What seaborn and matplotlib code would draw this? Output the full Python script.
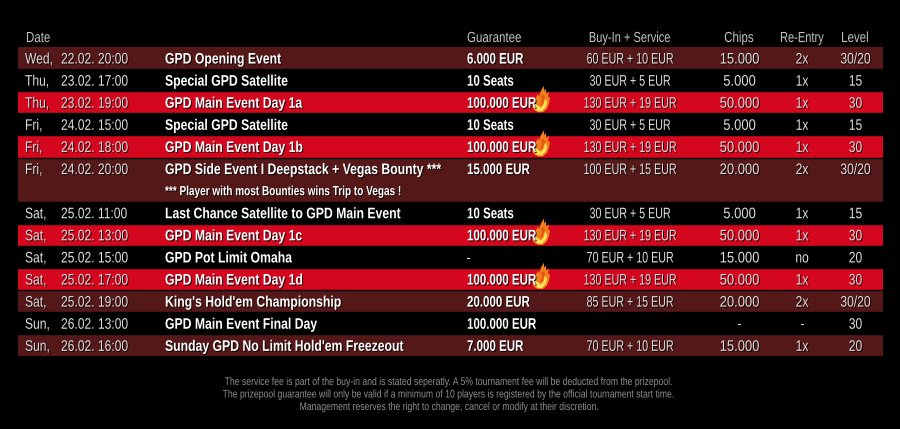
#!/usr/bin/env python3
"""
GPD tournament schedule table
"""

import numpy as np
import pandas as pd
import matplotlib
matplotlib.use('Agg')
import matplotlib.pyplot as plt
import matplotlib.patheffects as pe
from matplotlib.colors import ListedColormap
from matplotlib.patches import Polygon
from matplotlib.transforms import Affine2D, Bbox
import seaborn as sns

# Table content, one entry per band (row 6 is the note line of the side event)
days = ['Wed,', 'Thu,', 'Thu,', 'Fri,', 'Fri,', 'Fri,', '', 'Sat,', 'Sat,', 'Sat,', 'Sat,', 'Sat,', 'Sun,', 'Sun,']
dates = ['22.02. 20:00', '23.02. 17:00', '23.02. 19:00', '24.02. 15:00', '24.02. 18:00', '24.02. 20:00', '',
         '25.02. 11:00', '25.02. 13:00', '25.02. 15:00', '25.02. 17:00', '25.02. 19:00', '26.02. 13:00', '26.02. 16:00']
events = ['GPD Opening Event', 'Special GPD Satellite', 'GPD Main Event Day 1a', 'Special GPD Satellite',
          'GPD Main Event Day 1b', 'GPD Side Event I Deepstack + Vegas Bounty ***', '',
          'Last Chance Satellite to GPD Main Event', 'GPD Main Event Day 1c', 'GPD Pot Limit Omaha',
          'GPD Main Event Day 1d', "King's Hold'em Championship", 'GPD Main Event Final Day',
          "Sunday GPD No Limit Hold'em Freezeout"]
guarantees = ['6.000 EUR', '10 Seats', '100.000 EUR', '10 Seats', '100.000 EUR', '15.000 EUR', '',
              '10 Seats', '100.000 EUR', '-', '100.000 EUR', '20.000 EUR', '100.000 EUR', '7.000 EUR']
buyins = ['60 EUR + 10 EUR', '30 EUR + 5 EUR', '130 EUR + 19 EUR', '30 EUR + 5 EUR', '130 EUR + 19 EUR',
          '100 EUR + 15 EUR', '', '30 EUR + 5 EUR', '130 EUR + 19 EUR', '70 EUR + 10 EUR', '130 EUR + 19 EUR',
          '85 EUR + 15 EUR', '', '70 EUR + 10 EUR']
chips = ['15.000', '5.000', '50.000', '5.000', '50.000', '20.000', '', '5.000', '50.000', '15.000', '50.000',
         '20.000', '-', '15.000']
reentry = ['2x', '1x', '1x', '1x', '1x', '2x', '', '1x', '1x', 'no', '1x', '2x', '-', '1x']
levels = ['30/20', '15', '30', '15', '30', '30/20', '', '15', '30', '20', '30', '30/20', '30', '20']
# 0 black, 1 maroon, 2 red
row_kinds = [1, 0, 2, 0, 2, 1, 1, 0, 2, 0, 2, 1, 0, 1]

note = '*** Player with most Bounties wins Trip to Vegas !'
footer = ['The service fee is part of the buy-in and is stated seperatly. A 5% tournament fee will be deducted from the prizepool.',
          'The prizepool guarantee will only be valid if a minimum of 10 players is registered by the official tournament start time.',
          'Management reserves the right to change, cancel or modify at their discretion.']

W, H = 900, 429
TOP, ROW_H = 47.0, 22.1

sns.set_theme(style='white')
plt.rcParams['font.family'] = ['Liberation Sans', 'DejaVu Sans']

fig = plt.figure(figsize=(W / 100, H / 100), dpi=100, facecolor='black')
ax = fig.add_axes([17.5 / W, 1 - (TOP + ROW_H * 14) / H, 865.5 / W, ROW_H * 14 / H])

# Bands
bands = pd.DataFrame({'kind': row_kinds})
sns.heatmap(bands, ax=ax, cbar=False, vmin=0, vmax=2,
            cmap=ListedColormap(['#000000', '#551818', '#d5071f']),
            xticklabels=False, yticklabels=False)
ax.set_xlabel('')
ax.set_ylabel('')
# thin black gaps between rows, none inside the side event block
for i in range(1, 14):
    if i != 6:
        ax.axhline(i, color='black', lw=1.0)

# everything else is placed in reference pixels
px = Affine2D().scale(1 / W, -1 / H).translate(0, 1) + fig.transFigure


class Condensed(pe.AbstractPathEffect):
    # no condensed font installed, so squeeze the glyphs around the text anchor
    def __init__(self, x0, sx, shadow=True):
        super().__init__()
        self.x0, self.sx, self.shadow = x0, sx, shadow

    def draw_path(self, renderer, gc, tpath, affine, rgbFace=None):
        squeezed = affine + Affine2D().translate(-self.x0, 0).scale(self.sx, 1).translate(self.x0, 0)
        if self.shadow:
            renderer.draw_path(gc, tpath, squeezed + Affine2D().translate(1, -1), (0, 0, 0, 0.85))
        renderer.draw_path(gc, tpath, squeezed, rgbFace)


def put(x, y, s, size=11, color='#dedede', weight='normal', ha='left', sx=0.79, shadow=True):
    t = fig.text(x, y, s, transform=px, fontsize=size, color=color, fontweight=weight,
                 ha=ha, va='center_baseline', zorder=3)
    t.set_path_effects([Condensed(x, sx, shadow)])
    # report the squeezed box, not the raw one
    raw = t.get_window_extent

    def extent(renderer=None, dpi=None):
        b = raw(renderer, dpi)
        return Bbox.from_extents(x + (b.x0 - x) * sx, b.y0, x + (b.x1 - x) * sx, b.y1)
    t.get_window_extent = extent
    return t


def flame(cx, cy):
    outer = np.array([[-6, 9], [-8.5, 6], [-8, 1], [-5, -4], [-3, -8], [-2, -5], [0, -11], [3, -16], [3, -11],
                      [5, -13], [5, -8], [8, -10], [7, -5], [9, -4], [8, 2], [6, 7], [2, 10.5], [-3, 10.5]])
    inner = np.array([[-5, 8], [-6.5, 5], [-6, 2], [-3, 4], [0, 6], [3, 2], [4, -3], [6, 0], [5, 5], [1, 9.5], [-3, 9.5]])
    core = np.array([[-1, 3], [1, -2], [0, -6], [3, -7], [4, -4], [2, 1], [1, 4]])
    for pts, col in [(outer, '#f0801e'), (inner, '#ffe25a'), (core, '#e8560f')]:
        fig.add_artist(Polygon(pts + [cx, cy], closed=True, transform=px, facecolor=col,
                               edgecolor='none', zorder=2))


# Header
for x, s, ha, sq in [(26, 'Date', 'left', 0.79), (467, 'Guarantee', 'left', 0.79),
                     (630, 'Buy-In + Service', 'center', 0.76), (739, 'Chips', 'center', 0.79),
                     (802, 'Re-Entry', 'center', 0.76), (855, 'Level', 'center', 0.79)]:
    put(x, 36.5, s, color='#c4c4c4', size=10.5, ha=ha, sx=sq, shadow=False)

# Rows
for i in range(len(row_kinds)):
    y = TOP + ROW_H * (i + 0.5)
    if i == 6:
        put(165, y, note, size=9.5, color='white', weight='bold', sx=0.76)
        continue
    if guarantees[i] == '100.000 EUR' and row_kinds[i] == 2:
        flame(541, y - 0.5)
    put(25, y, days[i])
    put(61, y, dates[i])
    put(165, y, events[i], color='white', weight='bold', sx=0.80)
    put(467, y, guarantees[i], color='white', weight='bold', sx=0.755)
    put(630, y, buyins[i], ha='center', sx=0.70)
    put(739.5, y, chips[i], ha='center', sx=0.85)
    put(802, y, reentry[i], ha='center')
    put(855.5, y, levels[i], ha='center')

# Footer
for y, line in zip([381, 393.5, 406], footer):
    put(450.5, y, line, size=8, color='#8e8e8e', ha='center', sx=0.78, shadow=False)

fig.savefig('out.png', dpi=100, facecolor='black')
